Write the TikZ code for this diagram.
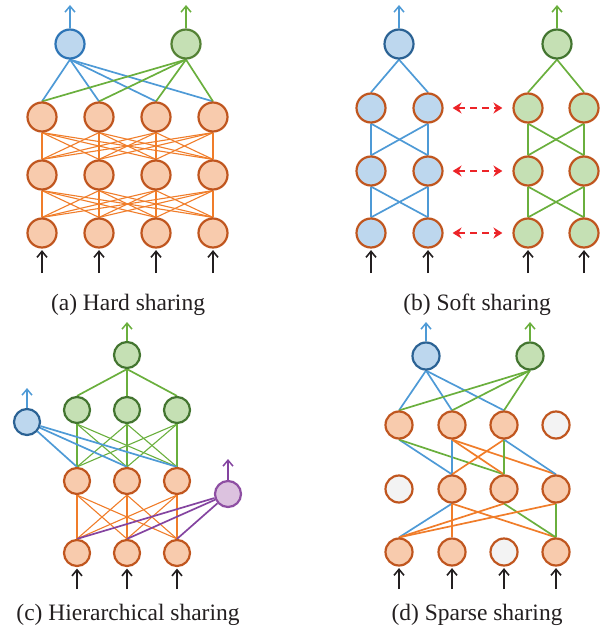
\documentclass[tikz,border=0pt]{standalone}
\usepackage{fontspec}
\setmainfont{Liberation Serif}
\usetikzlibrary{arrows.meta}
\pgfdeclarelayer{bg}
\pgfsetlayers{bg,main}

% palette
\definecolor{ofill}{HTML}{F8CBAD}
\definecolor{oedge}{HTML}{C0561F}
\definecolor{bfill}{HTML}{BDD7EE}
\definecolor{bedge}{HTML}{2E75B6}
\definecolor{bedgedk}{HTML}{2B6294}
\definecolor{gfill}{HTML}{C5E0B4}
\definecolor{gedge}{HTML}{548235}
\definecolor{gedgedk}{HTML}{437530}
\definecolor{pfill}{HTML}{DCC2DF}
\definecolor{pedge}{HTML}{8E4FA3}
\definecolor{offfill}{HTML}{F3F3F3}
\definecolor{bline}{HTML}{4E9AD6}
\definecolor{gline}{HTML}{6AAF3D}
\definecolor{oline}{HTML}{F07D2A}
\definecolor{pline}{HTML}{8444A0}
\definecolor{rline}{HTML}{EC2428}
\definecolor{ink}{HTML}{231F20}

\tikzset{
  unit/.style={circle, inner sep=0pt, minimum size=29pt, line width=2.2pt},
  small/.style={minimum size=26pt},
  mid/.style={minimum size=27pt},
  onode/.style={unit, draw=oedge, fill=ofill},
  offnode/.style={unit, draw=oedge, fill=offfill},
  bnode/.style={unit, draw=bedge, fill=bfill},
  bnodedk/.style={unit, draw=bedgedk, fill=bfill},
  gnode/.style={unit, draw=gedge, fill=gfill},
  gnodedk/.style={unit, draw=gedgedk, fill=gfill},
  bhid/.style={unit, draw=oedge, fill=bfill},
  ghid/.style={unit, draw=oedge, fill=gfill},
  pnode/.style={unit, draw=pedge, fill=pfill},
  bthick/.style={draw=bline, line width=1.7pt},
  gthick/.style={draw=gline, line width=1.7pt},
  othick/.style={draw=oline, line width=1.7pt},
  pthick/.style={draw=pline, line width=1.7pt},
  gthin/.style={draw=gline, line width=1.1pt},
  othin/.style={draw=oline, line width=1.1pt},
  outarrow/.style={line width=1.7pt, -{Straight Barb[length=6pt,width=10pt,line width=1.5pt]}},
  inarrow/.style={draw=ink, line width=1.8pt, shorten >=1.5pt,
    -{Straight Barb[length=6pt,width=10pt,line width=1.6pt]}},
  linkarrow/.style={draw=rline, line width=1.8pt, dash pattern=on 7pt off 5pt,
    {Stealth[length=9pt,width=11pt,inset=3pt]}-{Stealth[length=9pt,width=11pt,inset=3pt]}},
  caption/.style={anchor=base, text=ink, font=\fontsize{23.5}{28}\selectfont, inner sep=0pt}
}

\begin{document}
\begin{tikzpicture}[x=1pt, y=-1pt]
\useasboundingbox (0,0) rectangle (605,631);

%%%%%%%%%%%%%%%% (a) hard sharing
\node[bnode] (a-t1) at (70,44) {};
\node[gnode] (a-t2) at (186,44) {};
\foreach \i/\x in {1/42,2/99,3/156,4/213} {
  \foreach \j/\y in {1/117,2/175,3/233} {
    \node[onode] (a-\j\i) at (\x,\y) {};
  }
  \coordinate (a-in\i) at (\x,273);
}
\coordinate (a-o1) at (70,5);
\coordinate (a-o2) at (186,5);
\begin{pgfonlayer}{bg}
  \foreach \j/\k in {1/2,2/3}
    \foreach \i in {1,...,4}
      \foreach \m in {1,...,4}
        \draw[othin] (a-\j\i.south) -- (a-\k\m.north);
  \foreach \i in {1,...,4} \draw[bthick] (a-t1.south) -- (a-1\i.north);
  \foreach \i in {1,...,4} \draw[gthick] (a-t2.south) -- (a-1\i.north);
\end{pgfonlayer}
\draw[outarrow, bline] (a-t1.north) -- (a-o1);
\draw[outarrow, gline] (a-t2.north) -- (a-o2);
\foreach \i in {1,...,4} \draw[inarrow] (a-in\i) -- (a-3\i.south);
\node[caption] (a-cap) at (128,310) {(a) Hard sharing};

%%%%%%%%%%%%%%%% (b) soft sharing
\node[bnodedk] (b-t1) at (399,44) {};
\node[gnodedk] (b-t2) at (557,44) {};
\foreach \j/\y in {1/108,2/171,3/233} {
  \node[bhid] (b-L\j1) at (371,\y) {};
  \node[bhid] (b-L\j2) at (428,\y) {};
  \node[ghid] (b-R\j1) at (528,\y) {};
  \node[ghid] (b-R\j2) at (584,\y) {};
}
\foreach \i/\x in {1/371,2/428,3/528,4/584} \coordinate (b-in\i) at (\x,273);
\coordinate (b-o1) at (399,5);
\coordinate (b-o2) at (557,5);
\begin{pgfonlayer}{bg}
  \foreach \i in {1,2} {
    \draw[bthick] (b-t1.south) -- (b-L1\i.north);
    \draw[gthick] (b-t2.south) -- (b-R1\i.north);
  }
  \foreach \j/\k in {1/2,2/3}
    \foreach \i in {1,2}
      \foreach \m in {1,2} {
        \draw[bthick] (b-L\j\i.south) -- (b-L\k\m.north);
        \draw[gthick] (b-R\j\i.south) -- (b-R\k\m.north);
      }
\end{pgfonlayer}
\foreach \j in {1,2,3}
  \draw[linkarrow] ([xshift=9pt]b-L\j2.east) -- ([xshift=-10pt]b-R\j1.west);
\draw[outarrow, bline] (b-t1.north) -- (b-o1);
\draw[outarrow, gline] (b-t2.north) -- (b-o2);
\draw[inarrow] (b-in1) -- (b-L31.south);
\draw[inarrow] (b-in2) -- (b-L32.south);
\draw[inarrow] (b-in3) -- (b-R31.south);
\draw[inarrow] (b-in4) -- (b-R32.south);
\node[caption] (b-cap) at (477,310) {(b) Soft sharing};

%%%%%%%%%%%%%%%% (c) hierarchical sharing
\node[gnodedk, small] (c-t) at (127,355) {};
\node[bnodedk, small] (c-b) at (27,422) {};
\node[pnode, small] (c-p) at (228,494) {};
\foreach \i/\x in {1/77,2/127,3/177} {
  \node[gnodedk, small] (c-g\i) at (\x,410) {};
  \node[onode, small] (c-m\i) at (\x,481) {};
  \node[onode, small] (c-l\i) at (\x,553) {};
  \coordinate (c-in\i) at (\x,589);
}
\coordinate (c-ot) at (127,322);
\coordinate (c-ob) at (27,388);
\coordinate (c-op) at (228,459);
\begin{pgfonlayer}{bg}
  \foreach \i in {1,2,3} {
    \draw[gthick] (c-t.south) -- (c-g\i.north);
    \foreach \m in {1,2,3} {
      \draw[gthin] (c-g\i.south) -- (c-m\m.north);
      \draw[othin] (c-m\i.south) -- (c-l\m.north);
    }
  }
  \foreach \i in {1,2,3} \draw[bthick] (c-b) -- (c-m\i.north);
  \foreach \i in {1,2,3} \draw[pthick] (c-p) -- (c-l\i.north);
\end{pgfonlayer}
\draw[outarrow, gline] (c-t.north) -- (c-ot);
\draw[outarrow, bline] (c-b.north) -- (c-ob);
\draw[outarrow, pline] (c-p.north) -- (c-op);
\foreach \i in {1,2,3} \draw[inarrow] (c-in\i) -- (c-l\i.south);
\node[caption] (c-cap) at (128,620) {(c) Hierarchical sharing};

%%%%%%%%%%%%%%%% (d) sparse sharing
\node[bnodedk, mid] (d-t1) at (426,356) {};
\node[gnodedk, mid] (d-t2) at (530,356) {};
\node[onode, mid] (d-11) at (399,425) {};
\node[onode, mid] (d-12) at (452,425) {};
\node[onode, mid] (d-13) at (504,425) {};
\node[offnode, mid] (d-14) at (556,425) {};
\node[offnode, mid] (d-21) at (399,489) {};
\node[onode, mid] (d-22) at (452,489) {};
\node[onode, mid] (d-23) at (504,489) {};
\node[onode, mid] (d-24) at (556,489) {};
\node[onode, mid] (d-31) at (399,552) {};
\node[onode, mid] (d-32) at (452,552) {};
\node[offnode, mid] (d-33) at (504,552) {};
\node[onode, mid] (d-34) at (556,552) {};
\foreach \i/\x in {1/399,2/452,3/504,4/556} \coordinate (d-in\i) at (\x,589);
\coordinate (d-o1) at (426,322);
\coordinate (d-o2) at (530,322);
\begin{pgfonlayer}{bg}
  \foreach \i in {1,2,3} \draw[bthick] (d-t1.south) -- (d-1\i.north);
  \foreach \i in {1,2,3} \draw[gthick] (d-t2.south) -- (d-1\i.north);
  % first to second hidden layer
  \draw[bthick] (d-11.south) -- (d-22.north);
  \draw[gthick] (d-11.south) -- (d-23.north);
  \draw[bthick] (d-12.south) -- (d-22.north);
  \draw[othick] (d-12.south) -- (d-23.north);
  \draw[othick] (d-12.south) -- (d-24.north);
  \draw[othick] (d-13.south) -- (d-22.north);
  \draw[gthick] (d-13.south) -- (d-23.north);
  \draw[bthick] (d-13.south) -- (d-24.north);
  % second hidden layer to inputs
  \draw[bthick] (d-22.south) -- (d-31.north);
  \draw[othick] (d-22.south) -- (d-32.north);
  \draw[othick] (d-22.south) -- (d-34.north);
  \draw[othick] (d-23.south) -- (d-31.north);
  \draw[gthick] (d-23.south) -- (d-34.north);
  \draw[othick] (d-24.south) -- (d-31.north);
  \draw[gthick] (d-24.south) -- (d-34.north);
\end{pgfonlayer}
\draw[outarrow, bline] (d-t1.north) -- (d-o1);
\draw[outarrow, gline] (d-t2.north) -- (d-o2);
\foreach \i in {1,...,4} \draw[inarrow] (d-in\i) -- (d-3\i.south);
\node[caption] (d-cap) at (477,620) {(d) Sparse sharing};

\end{tikzpicture}
\end{document}
